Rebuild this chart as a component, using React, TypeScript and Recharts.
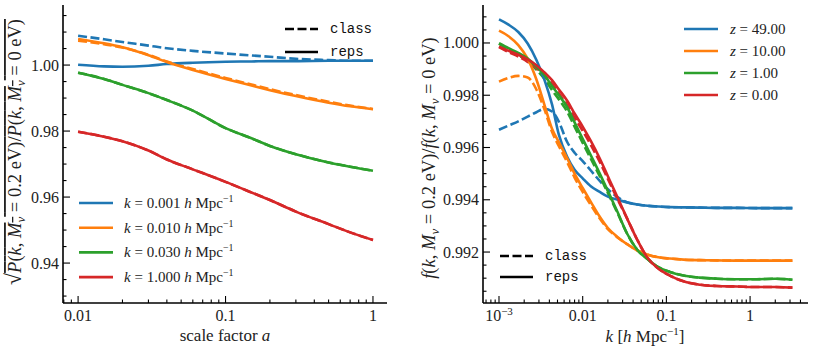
import React from "react";
import { LineChart, Line, XAxis, YAxis } from "recharts";

const COLORS = ["#1f77b4", "#ff7f0e", "#2ca02c", "#d62728"];
const SERIF = "'Liberation Serif', 'DejaVu Serif', serif";
const MONO = "'Liberation Mono', 'DejaVu Sans Mono', monospace";

// left panel: growth ratio vs scale factor
const aValues = [0.01, 0.015, 0.02, 0.03, 0.04, 0.06, 0.1, 0.15, 0.2, 0.3, 0.5, 0.7, 1];
const kLabels = ["0.001", "0.010", "0.030", "1.000"];
const repsByK = [
  [1.0001, 0.9996, 0.9995, 0.9998, 1.0003, 1.0007, 1.001, 1.0011, 1.0012, 1.0012, 1.0013, 1.0013, 1.0013],
  [1.0079, 1.0066, 1.0054, 1.003, 1.0009, 0.9985, 0.9958, 0.9938, 0.9924, 0.9906, 0.9886, 0.9875, 0.9866],
  [0.9977, 0.9958, 0.994, 0.9915, 0.9894, 0.9862, 0.9809, 0.9778, 0.9755, 0.973, 0.9705, 0.9692, 0.968],
  [0.9798, 0.9783, 0.9769, 0.9741, 0.9714, 0.9684, 0.9646, 0.9614, 0.9591, 0.9556, 0.9518, 0.9493, 0.947],
];
const classByK = [
  [1.0089, 1.0078, 1.007, 1.0059, 1.0051, 1.0043, 1.0035, 1.0029, 1.0025, 1.0019, 1.0015, 1.0013, 1.0013],
  [1.0074, 1.0063, 1.0053, 1.0031, 1.0011, 0.9988, 0.9961, 0.9941, 0.9927, 0.9909, 0.9889, 0.9877, 0.9867],
  [0.9977, 0.9958, 0.994, 0.9915, 0.9894, 0.9862, 0.9809, 0.9778, 0.9755, 0.973, 0.9705, 0.9692, 0.968],
  [0.9798, 0.9783, 0.9769, 0.9741, 0.9714, 0.9684, 0.9646, 0.9614, 0.9591, 0.9556, 0.9518, 0.9493, 0.947],
];
const leftXTicks = [0.008, 0.009, 0.01, 0.02, 0.03, 0.04, 0.05, 0.06, 0.07, 0.08, 0.09, 0.1, 0.2, 0.3, 0.4, 0.5, 0.6, 0.7, 0.8, 0.9, 1];
const leftXMajor = [0.01, 0.1, 1];
const leftXLabels = ["0.01", "0.1", "1"];
const leftYTicks = [0.93, 0.935, 0.94, 0.945, 0.95, 0.955, 0.96, 0.965, 0.97, 0.975, 0.98, 0.985, 0.99, 0.995, 1.0, 1.005, 1.01, 1.015];
const leftYMajor = [0.94, 0.96, 0.98, 1.0];
const leftYLabels = ["0.94", "0.96", "0.98", "1.00"];

// right panel: f ratio vs k
const kValues = [0.001, 0.0013, 0.0017, 0.0022, 0.0028, 0.0035, 0.0043, 0.0052, 0.0065, 0.008, 0.01, 0.0125, 0.016, 0.02, 0.026, 0.034, 0.045, 0.06, 0.08, 0.11, 0.16, 0.25, 0.4, 0.7, 1.2, 2, 3.2];
const zLabels = ["49.00", "10.00", "1.00", "0.00"];
const repsByZ = [
  [1.0009, 1.0007, 1.00042, 0.99998, 0.99935, 0.99858, 0.99765, 0.99648, 0.99565, 0.99515, 0.99482, 0.99452, 0.9943, 0.99412, 0.994, 0.9939, 0.99382, 0.99377, 0.99374, 0.99372, 0.99371, 0.9937, 0.99369, 0.99369, 0.99368, 0.99368, 0.99368],
  [1.00047, 1.00026, 0.99992, 0.9994, 0.9986, 0.99762, 0.99672, 0.9962, 0.9956, 0.995, 0.99445, 0.99392, 0.99335, 0.99292, 0.99258, 0.9923, 0.99206, 0.9919, 0.9918, 0.99175, 0.99171, 0.99169, 0.99168, 0.99167, 0.99167, 0.99167, 0.99167],
  [0.99999, 0.9998, 0.99962, 0.9994, 0.9991, 0.99877, 0.99835, 0.998, 0.99755, 0.99696, 0.99633, 0.9957, 0.995, 0.99433, 0.99354, 0.9927, 0.99208, 0.99172, 0.99142, 0.99124, 0.9911, 0.99102, 0.99098, 0.99096, 0.99096, 0.99098, 0.99094],
  [0.99986, 0.9997, 0.99955, 0.99937, 0.99915, 0.99887, 0.99858, 0.99822, 0.9978, 0.9973, 0.9968, 0.99625, 0.99558, 0.9949, 0.9941, 0.99328, 0.99246, 0.99176, 0.99137, 0.9911, 0.99088, 0.99075, 0.9907, 0.99068, 0.99066, 0.99066, 0.99064],
];
const classByZ = [
  [0.99668, 0.99684, 0.997, 0.99718, 0.99735, 0.99748, 0.99738, 0.99698, 0.99622, 0.9958, 0.99548, 0.99512, 0.99472, 0.9944, 0.9941, 0.9939, 0.99382, 0.99377, 0.99374, 0.99372, 0.99371, 0.9937, 0.99369, 0.99369, 0.99368, 0.99368, 0.99368],
  [0.99852, 0.99866, 0.99874, 0.99868, 0.99822, 0.99745, 0.9966, 0.99605, 0.99545, 0.99485, 0.9943, 0.9938, 0.99328, 0.99288, 0.99256, 0.9923, 0.99206, 0.9919, 0.9918, 0.99175, 0.99171, 0.99169, 0.99168, 0.99167, 0.99167, 0.99167, 0.99167],
  [0.99997, 0.99974, 0.99954, 0.9993, 0.99898, 0.99862, 0.9982, 0.99784, 0.99738, 0.9968, 0.99618, 0.99557, 0.9949, 0.99426, 0.9935, 0.9927, 0.99208, 0.99172, 0.99142, 0.99124, 0.9911, 0.99102, 0.99098, 0.99096, 0.99096, 0.99098, 0.99094],
  [0.99984, 0.99965, 0.99948, 0.99928, 0.99904, 0.99874, 0.99844, 0.99807, 0.99764, 0.99714, 0.99664, 0.9961, 0.99545, 0.9948, 0.99403, 0.99328, 0.99246, 0.99176, 0.99137, 0.9911, 0.99088, 0.99075, 0.9907, 0.99068, 0.99066, 0.99066, 0.99064],
];
const rightXTicks = [0.0007, 0.0008, 0.0009, 0.001, 0.002, 0.003, 0.004, 0.005, 0.006, 0.007, 0.008, 0.009, 0.01, 0.02, 0.03, 0.04, 0.05, 0.06, 0.07, 0.08, 0.09, 0.1, 0.2, 0.3, 0.4, 0.5, 0.6, 0.7, 0.8, 0.9, 1, 2, 3, 4];
const rightXMajor = [0.001, 0.01, 0.1, 1];
const rightXLabels = ["10^-3", "0.01", "0.1", "1"];
const rightYTicks = [0.9905, 0.991, 0.9915, 0.992, 0.9925, 0.993, 0.9935, 0.994, 0.9945, 0.995, 0.9955, 0.996, 0.9965, 0.997, 0.9975, 0.998, 0.9985, 0.999, 0.9995, 1.0, 1.0005, 1.001];
const rightYMajor = [0.992, 0.994, 0.996, 0.998, 1.0];
const rightYLabels = ["0.992", "0.994", "0.996", "0.998", "1.000"];

const toPoints = (xs: number[], ys: number[]) => xs.map((x, i) => ({ x, y: ys[i] }));
const findMajor = (v: number, majors: number[]) =>
  majors.findIndex((m) => Math.abs(m - v) < Math.abs(m) * 1e-9);

const renderLabel = (s: string, x: number, y: number, anchor: string) => {
  if (s.includes("^")) {
    const [base, exp] = s.split("^");
    return (
      <text x={x} y={y} textAnchor={anchor} fontFamily={SERIF} fontSize={16} fill="#222">
        {base}
        <tspan dy={-6} fontSize={11}>{exp.replace("-", "\u2212")}</tspan>
      </text>
    );
  }
  return (
    <text x={x} y={y} textAnchor={anchor} fontFamily={SERIF} fontSize={16} fill="#222">
      {s}
    </text>
  );
};

const makeTick = (side: string, majors: number[], labels: string[] | null) => (props: any) => {
  const { x, y, payload } = props;
  const idx = findMajor(payload.value, majors);
  const len = idx >= 0 ? 7 : 3.5;
  let line;
  if (side === "bottom") line = <line x1={x} y1={y} x2={x} y2={y - len} stroke="#000" strokeWidth={1.1} />;
  else if (side === "top") line = <line x1={x} y1={y} x2={x} y2={y + len} stroke="#000" strokeWidth={1.1} />;
  else if (side === "left") line = <line x1={x} y1={y} x2={x + len} y2={y} stroke="#000" strokeWidth={1.1} />;
  else line = <line x1={x} y1={y} x2={x - len} y2={y} stroke="#000" strokeWidth={1.1} />;
  let label = null;
  if (labels && idx >= 0) {
    if (side === "bottom") label = renderLabel(labels[idx], x, y + 18, "middle");
    else if (side === "left") label = renderLabel(labels[idx], x - 4, y + 5.5, "end");
  }
  return (
    <g>
      {line}
      {label}
    </g>
  );
};

const axisLine = { stroke: "#000", strokeWidth: 1.6 };

const Panel = ({ width, height, margin, xDomain, yDomain, xTicks, xMajor, xLabels, yTicks, yMajor, yLabels, yWidth, xs, reps, classes }: any) => (
  <LineChart width={width} height={height} margin={margin}>
    <XAxis xAxisId="b" dataKey="x" type="number" scale="log" domain={xDomain} allowDataOverflow
      ticks={xTicks} interval={0} tickSize={0} tickMargin={0} tickLine={false}
      tick={makeTick("bottom", xMajor, xLabels)} axisLine={axisLine} height={52} />
    <XAxis xAxisId="t" orientation="top" dataKey="x" type="number" scale="log" domain={xDomain} allowDataOverflow
      ticks={xTicks} interval={0} tickSize={0} tickMargin={0} tickLine={false}
      tick={makeTick("top", xMajor, null)} axisLine={axisLine} height={0} />
    <YAxis yAxisId="l" type="number" domain={yDomain} allowDataOverflow ticks={yTicks} interval={0}
      tickSize={0} tickMargin={0} tickLine={false} tick={makeTick("left", yMajor, yLabels)}
      axisLine={axisLine} width={yWidth} />
    <YAxis yAxisId="r" orientation="right" type="number" domain={yDomain} allowDataOverflow ticks={yTicks} interval={0}
      tickSize={0} tickMargin={0} tickLine={false} tick={makeTick("right", yMajor, null)}
      axisLine={axisLine} width={0} />
    {classes.map((ys: number[], i: number) => (
      <Line key={"c" + i} xAxisId="b" yAxisId="l" data={toPoints(xs, ys)} dataKey="y" type="monotone"
        stroke={COLORS[i]} strokeWidth={2.6} strokeDasharray="9 3.5" dot={false} isAnimationActive={false} />
    ))}
    {reps.map((ys: number[], i: number) => (
      <Line key={"r" + i} xAxisId="b" yAxisId="l" data={toPoints(xs, ys)} dataKey="y" type="monotone"
        stroke={COLORS[i]} strokeWidth={2.6} dot={false} isAnimationActive={false} />
    ))}
  </LineChart>
);

const Nu = () => (
  <>
    <tspan fontStyle="italic">M</tspan>
    <tspan fontStyle="italic" fontSize={13} dy={4}>ν</tspan>
    <tspan dy={-4}> </tspan>
  </>
);

const Overlay = () => (
  <svg width={814} height={355} style={{ position: "absolute", left: 0, top: 0, pointerEvents: "none" }}>
    {/* left legend: code style */}
    <line x1={285} y1={29} x2={318} y2={29} stroke="#000" strokeWidth={2.6} strokeDasharray="9 3.5" />
    <text x={330} y={33} fontFamily={MONO} fontSize={14} fill="#111">class</text>
    <line x1={285} y1={52} x2={318} y2={52} stroke="#000" strokeWidth={2.6} />
    <text x={330} y={56} fontFamily={MONO} fontSize={14} fill="#111">reps</text>
    {kLabels.map((lab, i) => (
      <g key={lab}>
        <line x1={79} y1={203 + i * 24.7} x2={113} y2={203 + i * 24.7} stroke={COLORS[i]} strokeWidth={2.6} />
        <text x={124} y={208 + i * 24.7} fontFamily={SERIF} fontSize={15} fill="#222">
          <tspan fontStyle="italic">k</tspan> = {lab} <tspan fontStyle="italic">h</tspan> Mpc
          <tspan dy={-6} fontSize={10}>−1</tspan>
        </text>
      </g>
    ))}
    {/* right legend */}
    {zLabels.map((lab, i) => (
      <g key={lab}>
        <line x1={684} y1={29 + i * 22} x2={718} y2={29 + i * 22} stroke={COLORS[i]} strokeWidth={2.6} />
        <text x={730} y={34 + i * 22} fontFamily={SERIF} fontSize={15} fill="#222">
          <tspan fontStyle="italic">z</tspan> = {lab}
        </text>
      </g>
    ))}
    <line x1={500} y1={256} x2={533} y2={256} stroke="#000" strokeWidth={2.6} strokeDasharray="9 3.5" />
    <text x={545} y={260} fontFamily={MONO} fontSize={14} fill="#111">class</text>
    <line x1={500} y1={277} x2={533} y2={277} stroke="#000" strokeWidth={2.6} />
    <text x={545} y={281} fontFamily={MONO} fontSize={14} fill="#111">reps</text>
    {/* axis titles */}
    <text x={225} y={341} textAnchor="middle" fontFamily={SERIF} fontSize={17} fill="#222">
      scale factor <tspan fontStyle="italic">a</tspan>
    </text>
    <text x={645} y={342} textAnchor="middle" fontFamily={SERIF} fontSize={17} fill="#222">
      <tspan fontStyle="italic">k</tspan> [<tspan fontStyle="italic">h</tspan> Mpc
      <tspan dy={-7} fontSize={11}>−1</tspan>
      <tspan dy={7}>]</tspan>
    </text>
    <text x={0} y={0} transform="translate(21,152) rotate(-90)" textAnchor="middle" fontFamily={SERIF} fontSize={18.5} fill="#222">
      <tspan fontSize={22}>√</tspan>
      <tspan style={{ textDecoration: "overline" }}>
        <tspan fontStyle="italic">P</tspan>(<tspan fontStyle="italic">k</tspan>, <Nu />= 0.2 eV)/<tspan fontStyle="italic">P</tspan>(<tspan fontStyle="italic">k</tspan>, <Nu />= 0 eV)
      </tspan>
    </text>
    <text x={0} y={0} transform="translate(435,158) rotate(-90)" textAnchor="middle" fontFamily={SERIF} fontSize={18.5} fill="#222">
      <tspan fontStyle="italic">f</tspan>(<tspan fontStyle="italic">k</tspan>, <Nu />= 0.2 eV)/<tspan fontStyle="italic">f</tspan>(<tspan fontStyle="italic">k</tspan>, <Nu />= 0 eV)
    </text>
  </svg>
);

export default function App() {
  return (
    <div style={{ position: "absolute", left: 0, top: 0, width: 814, height: 355, background: "#fff" }}>
      <div style={{ position: "absolute", left: 0, top: 0 }}>
        <Panel width={410} height={355} margin={{ top: 5, right: 23, bottom: 0, left: 0 }}
          xDomain={[0.0079, 1.245]} yDomain={[0.9279, 1.0182]}
          xTicks={leftXTicks} xMajor={leftXMajor} xLabels={leftXLabels}
          yTicks={leftYTicks} yMajor={leftYMajor} yLabels={leftYLabels} yWidth={63}
          xs={aValues} reps={repsByK} classes={classByK} />
      </div>
      <div style={{ position: "absolute", left: 410, top: 0 }}>
        <Panel width={404} height={355} margin={{ top: 5, right: 6, bottom: 0, left: 0 }}
          xDomain={[0.000644, 4.92]} yDomain={[0.99005, 1.001453]}
          xTicks={rightXTicks} xMajor={rightXMajor} xLabels={rightXLabels}
          yTicks={rightYTicks} yMajor={rightYMajor} yLabels={rightYLabels} yWidth={73}
          xs={kValues} reps={repsByZ} classes={classByZ} />
      </div>
      <Overlay />
    </div>
  );
}
